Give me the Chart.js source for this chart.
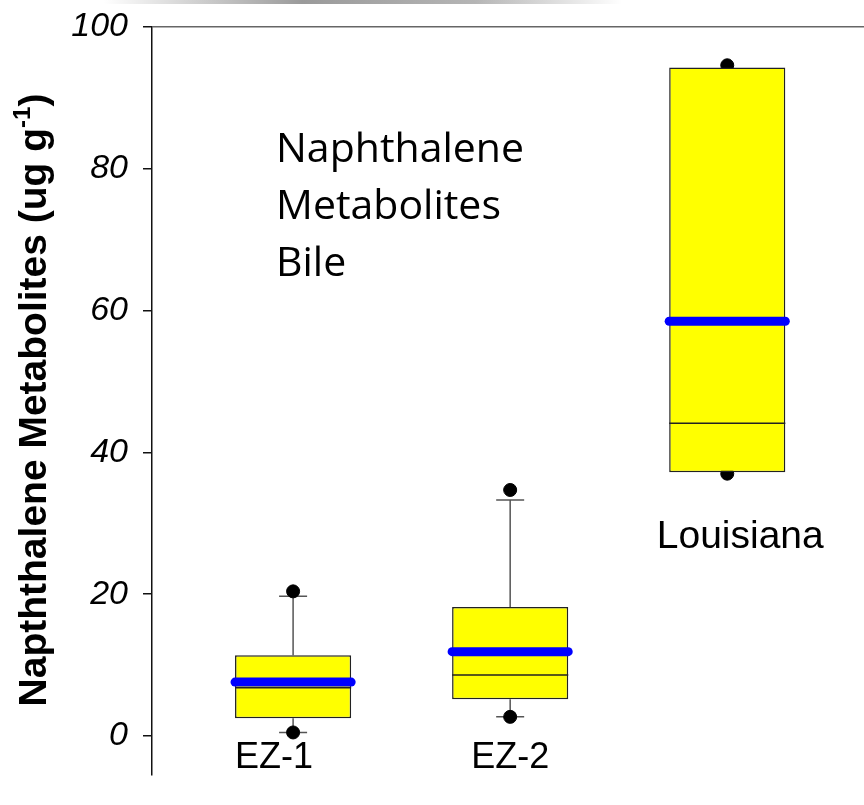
<!doctype html>
<html>

<head>
    <title>Naphthalene Metabolites</title>
    <script src="https://cdn.jsdelivr.net/npm/chart.js"></script>
    <style>
        html, body { margin: 0; padding: 0; background: #fff; overflow: hidden; }
        #shade { position: absolute; left: 0; top: 0; width: 864px; height: 4px;
                 background: linear-gradient(to right, #fff 12%, #9a9a9a 35%, #b5b5b5 55%, #fff 72%); }
        canvas { display: block; }
    </style>
</head>

<body>
    <div id="shade"></div>
    <canvas id="grafico" width="864" height="805"></canvas>

    <script>
        // sites and box statistics (ug g-1)
        var grupos = ['EZ-1', 'EZ-2', 'Louisiana'];
        var q1 = [2.5, 5.2, 37.2];
        var q3 = [11.4, 18.2, 94.3];
        var medianas = [6.8, 8.6, 44.1];
        var medias = [7.6, 11.9, 58.5];
        var bigodeMin = [0.5, 2.7, null];
        var bigodeMax = [19.7, 33.3, null];
        var extremos = [[20.4, 0.5], [34.7, 2.7], [94.6, 37.0]];
        var yTicks = [0, 20, 40, 60, 80, 100];

        var caixas = grupos.map((g, i) => ({ x: i, y: [q1[i], q3[i]] }));
        var pontos = [];
        extremos.forEach((lista, i) => lista.forEach(v => pontos.push({ x: i, y: v })));

        // whiskers, caps, median and mean lines, text labels
        var extras = {
            id: 'extras',
            beforeDatasetsDraw(chart) {
                var ctx = chart.ctx, x = chart.scales.x, y = chart.scales.y;
                ctx.save();
                ctx.strokeStyle = '#555';
                ctx.lineWidth = 1.5;
                grupos.forEach((g, i) => {
                    var cx = x.getPixelForValue(i);
                    var capa = 14;
                    [[bigodeMin[i], q1[i]], [bigodeMax[i], q3[i]]].forEach(([w, b]) => {
                        if (w == null) return;
                        ctx.beginPath();
                        ctx.moveTo(cx, y.getPixelForValue(b));
                        ctx.lineTo(cx, y.getPixelForValue(w));
                        ctx.moveTo(cx - capa, y.getPixelForValue(w));
                        ctx.lineTo(cx + capa, y.getPixelForValue(w));
                        ctx.stroke();
                    });
                });
                ctx.restore();
            },
            afterDatasetsDraw(chart, args, opts) {
                var ctx = chart.ctx, x = chart.scales.x, y = chart.scales.y;
                var barras = chart.getDatasetMeta(1).data;
                ctx.save();
                grupos.forEach((g, i) => {
                    var b = barras[i];
                    var esq = b.x - b.width / 2, dir = b.x + b.width / 2;
                    ctx.strokeStyle = '#222';
                    ctx.lineWidth = 1.5;
                    ctx.lineCap = 'butt';
                    ctx.beginPath();
                    ctx.moveTo(esq, y.getPixelForValue(medianas[i]));
                    ctx.lineTo(dir, y.getPixelForValue(medianas[i]));
                    ctx.stroke();
                    ctx.strokeStyle = '#0000ff';
                    ctx.lineWidth = 9;
                    ctx.lineCap = 'round';
                    ctx.beginPath();
                    ctx.moveTo(esq, y.getPixelForValue(medias[i]));
                    ctx.lineTo(dir, y.getPixelForValue(medias[i]));
                    ctx.stroke();
                });

                // site names
                ctx.fillStyle = '#000';
                ctx.textAlign = 'center';
                ctx.textBaseline = 'middle';
                opts.rotulos.forEach((r, i) => {
                    ctx.font = r.size + 'px "Liberation Sans", Arial, sans-serif';
                    ctx.fillText(grupos[i], x.getPixelForValue(i) + r.dx, y.getPixelForValue(r.y));
                });

                // note inside the plot
                ctx.textAlign = 'left';
                ctx.font = '41px "Open Sans", "Noto Sans", sans-serif';
                opts.nota.forEach((linha, k) => ctx.fillText(linha, 276, 150 + k * 57));

                // y axis title with superscript
                ctx.translate(35, 400);
                ctx.rotate(-Math.PI / 2);
                ctx.textAlign = 'left';
                ctx.textBaseline = 'middle';
                var fonte = 'bold 39px "Liberation Sans", Arial, sans-serif';
                var fonteSup = 'bold 24px "Liberation Sans", Arial, sans-serif';
                var t1 = 'Napththalene Metabolites (ug g', t2 = '-1', t3 = ')';
                ctx.font = fonte; var w1 = ctx.measureText(t1).width, w3 = ctx.measureText(t3).width;
                ctx.font = fonteSup; var w2 = ctx.measureText(t2).width;
                var x0 = -(w1 + w2 + w3) / 2;
                ctx.font = fonte; ctx.fillText(t1, x0, 0);
                ctx.font = fonteSup; ctx.fillText(t2, x0 + w1, -12);
                ctx.font = fonte; ctx.fillText(t3, x0 + w1 + w2, 0);
                ctx.restore();
            }
        };

        var Grafico = new Chart(document.getElementById('grafico').getContext('2d'), {
            data: {
                datasets: [{
                    type: 'scatter',
                    data: pontos,
                    backgroundColor: '#000',
                    borderColor: '#000',
                    pointRadius: 6.5,
                    order: 3
                }, {
                    type: 'bar',
                    data: caixas,
                    backgroundColor: '#ffff00',
                    borderColor: '#222',
                    borderWidth: 1.5,
                    borderSkipped: false,
                    barPercentage: 0.535,
                    categoryPercentage: 1,
                    order: 2
                }]
            },
            options: {
                responsive: false,
                animation: false,
                layout: { autoPadding: false, padding: { top: 27, bottom: 30, left: 0, right: 0 } },
                plugins: {
                    legend: { display: false },
                    tooltip: { enabled: false },
                    extras: {
                        rotulos: [{ dx: -19, y: -3.1, size: 36 }, { dx: 0, y: -3.1, size: 36 }, { dx: 13, y: 28.1, size: 39 }],
                        nota: ['Naphthalene', 'Metabolites', 'Bile']
                    }
                },
                scales: {
                    x: {
                        type: 'linear',
                        min: -0.65,
                        max: 2.63,
                        offset: false,
                        display: false,
                        afterBuildTicks: s => { s.ticks = grupos.map((g, i) => ({ value: i })); }
                    },
                    y: {
                        min: -5.5,
                        max: 100,
                        afterFit: s => { s.width = 152; s.paddingTop = 0; s.paddingBottom = 0; },
                        afterBuildTicks: s => { s.ticks = yTicks.map(v => ({ value: v })); },
                        border: { display: true, color: '#111', width: 1.5 },
                        grid: {
                            color: c => c.tick && c.tick.value === 100 ? '#666' : 'rgba(0,0,0,0)',
                            tickColor: '#111',
                            tickLength: 9,
                            lineWidth: 1.5
                        },
                        ticks: {
                            padding: 15,
                            color: '#000',
                            font: { family: '"Liberation Sans", Arial, sans-serif', size: 34, style: 'italic' }
                        }
                    }
                }
            },
            plugins: [extras]
        });
    </script>
</body>

</html>
